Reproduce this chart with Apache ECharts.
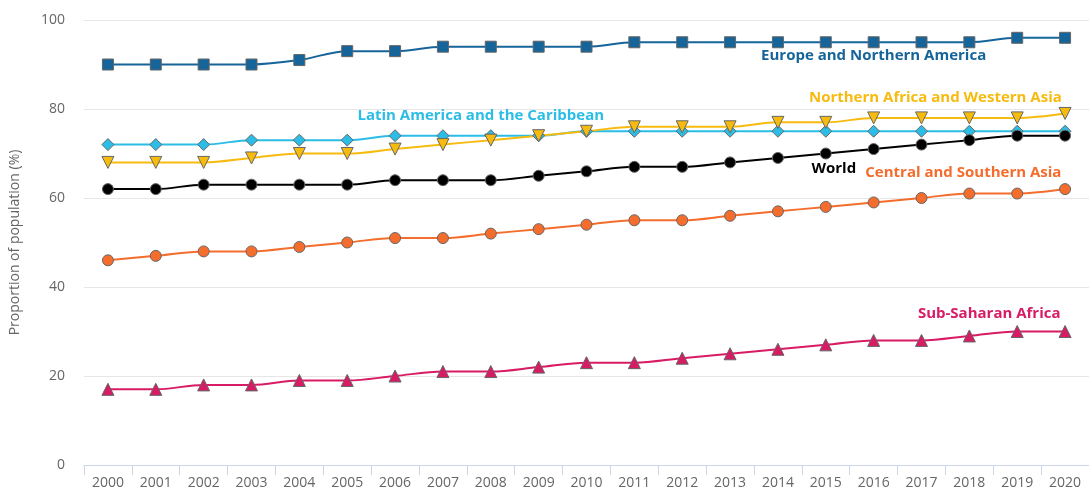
<!DOCTYPE html>
<html><head><meta charset="utf-8">
<script src="https://cdn.jsdelivr.net/npm/echarts@6/dist/echarts.min.js"></script>
<style>html,body{margin:0;padding:0;background:#fff}#c{width:1089px;height:491px}</style>
</head><body><div id="c"></div>
<script>
const years = ["2000","2001","2002","2003","2004","2005","2006","2007","2008","2009","2010","2011","2012","2013","2014","2015","2016","2017","2018","2019","2020"];
const europeNA = [90,90,90,90,91,93,93,94,94,94,94,95,95,95,95,95,95,95,95,96,96];
const latinAm = [72,72,72,73,73,73,74,74,74,74,75,75,75,75,75,75,75,75,75,75,75];
const nAfricaWAsia = [68,68,68,69,70,70,71,72,73,74,75,76,76,76,77,77,78,78,78,78,79];
const world = [62,62,63,63,63,63,64,64,64,65,66,67,67,68,69,70,71,72,73,74,74];
const centralSAsia = [46,47,48,48,49,50,51,51,52,53,54,55,55,56,57,58,59,60,61,61,62];
const subSaharan = [17,17,18,18,19,19,20,21,21,22,23,23,24,25,26,27,28,28,29,30,30];
const yTicks = [0,20,40,60,80,100];

const FONT = "Open Sans";
function mk(name, data, color, symbol, rotate, labelIdx, labelPos, offset) {
  return {
    name, type: 'line', smooth: 0.35,
    data: data.map((v, i) => i === labelIdx ? {
      value: v,
      label: { show: true, formatter: name, position: labelPos, offset: offset,
        color: color, fontFamily: FONT, fontWeight: 'bold', fontSize: 15 }
    } : v),
    symbol, symbolRotate: rotate, symbolSize: symbol === 'rect' ? 11 : (symbol === 'circle' ? 11 : 12),
    lineStyle: { color, width: 2 },
    itemStyle: { color, borderColor: '#666', borderWidth: 1 },
    label: { show: false },
    z: 2
  };
}
const chart = echarts.init(document.getElementById('c'));
chart.setOption({
  animation: false,
  grid: { left: 84, right: 0, top: 20, bottom: 26 },
  xAxis: {
    type: 'category', data: years, boundaryGap: true,
    axisLine: { lineStyle: { color: '#ccd6eb' } },
    axisTick: { show: true, length: 10, lineStyle: { color: '#ccd6eb' } },
    axisLabel: { color: '#666', fontFamily: FONT, fontSize: 14, margin: 11 }
  },
  yAxis: {
    type: 'value', min: 0, max: 100, interval: 20,
    name: 'Proportion of population (%)', nameLocation: 'middle', nameGap: 62,
    nameTextStyle: { color: '#666', fontFamily: FONT, fontSize: 14 },
    axisLine: { show: false }, axisTick: { show: false },
    axisLabel: { color: '#666', fontFamily: FONT, fontSize: 14, margin: 19,
      formatter: v => yTicks.includes(v) ? String(v) : '' },
    splitLine: { lineStyle: { color: '#e6e6e6' } }
  },
  series: [
    mk('Europe and Northern America', europeNA, '#15649a', 'rect', 0, 16, 'bottom', [0, -5]),
    mk('Latin America and the Caribbean', latinAm, '#2bbde6', 'diamond', 0, 8, 'top', [-10, -1]),
    mk('Northern Africa and Western Asia', nAfricaWAsia, '#f7bb0f', 'triangle', 180, 18, 'top', [-34, -1]),
    mk('World', world, '#000000', 'circle', 0, 15, 'bottom', [8, -3]),
    mk('Central and Southern Asia', centralSAsia, '#f46d2d', 'circle', 0, 18, 'top', [-6, -2]),
    mk('Sub-Saharan Africa', subSaharan, '#d81b65', 'triangle', 0, 19, 'top', [-28, 1])
  ]
});
</script></body></html>
